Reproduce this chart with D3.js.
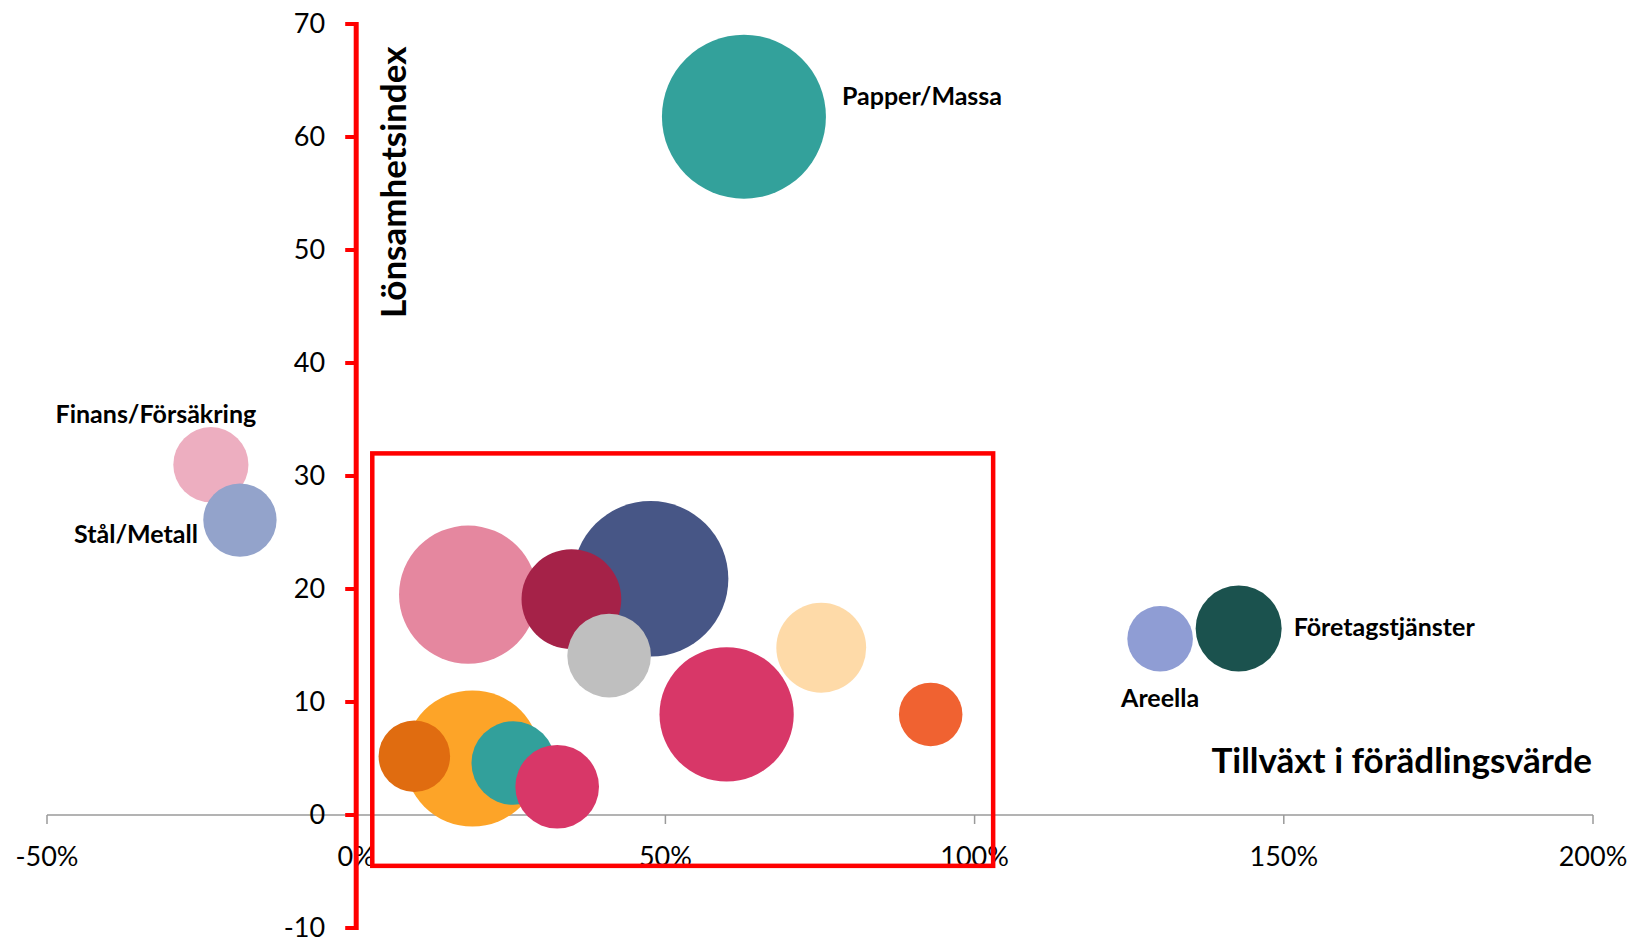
<!DOCTYPE html>
<html>
<head>
<meta charset="utf-8">
<script src="https://cdn.jsdelivr.net/npm/d3@7"></script>
<style>
  body { margin: 0; background: #fff; }
  text { font-family: Lato, "Open Sans", sans-serif; }
</style>
</head>
<body>
<div id="chart"></div>
<script>
// bubble data: growth in value added (fraction), profitability index, bubble size
var sectors = ["Finans/Försäkring", "Stål/Metall", "", "", "", "", "", "", "", "", "", "", "", "Papper/Massa", "Areella", "Företagstjänster"];
var growth  = [-0.235, -0.188, 0.181, 0.476, 0.348, 0.409, 0.752, 0.599, 0.929, 0.188, 0.094, 0.254, 0.325, 0.627, 1.300, 1.427];
var profit  = [31.0, 26.1, 19.5, 20.9, 19.1, 14.1, 14.8, 8.9, 8.9, 5.0, 5.2, 4.6, 2.5, 61.8, 15.6, 16.5];
var sizes   = [21, 20, 71, 90, 37, 26, 30, 67, 15, 69, 19, 26, 26, 100, 16, 27.5];
var colors  = ["#EDAEC0", "#93A3CB", "#E5879F", "#475686", "#A52248", "#BFBFBF", "#FEDAA8", "#D83768", "#F06231", "#FDA428", "#E06C10", "#32A09B", "#D83768", "#33A19B", "#8F9DD4", "#1B524E"];

var xTicks = [-0.5, 0, 0.5, 1, 1.5, 2];
var yTicks = [-10, 0, 10, 20, 30, 40, 50, 60, 70];

// highlighted region (growth / profit extents)
var boxX = [0.026, 1.03];
var boxY = [-4.5, 32];

var width = 1634, height = 942;

var svg = d3.select("#chart").append("svg")
    .attr("width", width)
    .attr("height", height);

var x = d3.scaleLinear().domain([-0.5, 2]).range([47, 1593]);
var y = d3.scaleLinear().domain([-10, 70]).range([928, 24]);
var r = d3.scaleSqrt().domain([0, 100]).range([0, 82]);

// label placement relative to bubble
var labelPos = {
  "Papper/Massa":      {dx: 16,  dy: -12, anchor: "start", side: 1},
  "Finans/Försäkring": {dx: -55, dy: -42, anchor: "middle", side: 0},
  "Stål/Metall":       {dx: -42, dy: 23,  anchor: "end", side: 0},
  "Areella":           {dx: 0,   dy: 68,  anchor: "middle", side: 0},
  "Företagstjänster":  {dx: 12,  dy: 7,   anchor: "start", side: 1}
};

var data = sectors.map(function(s, i) {
  return {name: s, gx: growth[i], py: profit[i], size: sizes[i], color: colors[i]};
});

var pct = function(d) { return Math.round(d * 100) + "%"; };

// x axis (gray)
var xAxis = svg.append("g").attr("transform", "translate(0," + y(0) + ")");
xAxis.append("line")
  .attr("x1", x(-0.5)).attr("x2", x(2))
  .attr("stroke", "#9a9a9a").attr("stroke-width", 1.5);
xAxis.selectAll(".xt").data(xTicks).enter().append("line")
  .attr("x1", function(d) { return x(d); })
  .attr("x2", function(d) { return x(d); })
  .attr("y1", 0).attr("y2", 9)
  .attr("stroke", "#9a9a9a").attr("stroke-width", 1.5);
xAxis.selectAll(".xl").data(xTicks).enter().append("text")
  .attr("x", function(d) { return x(d); })
  .attr("y", 51)
  .attr("text-anchor", "middle")
  .attr("font-size", 27)
  .attr("fill", "#000")
  .text(pct);

// bubbles
svg.append("g").selectAll("circle").data(data).enter().append("circle")
  .attr("cx", function(d) { return x(d.gx); })
  .attr("cy", function(d) { return y(d.py); })
  .attr("r", function(d) { return r(d.size); })
  .attr("fill", function(d) { return d.color; });

// bubble labels
svg.append("g").selectAll("text").data(data.filter(function(d) { return d.name; })).enter().append("text")
  .attr("x", function(d) {
    var p = labelPos[d.name];
    return x(d.gx) + p.dx + (p.side ? r(d.size) : 0);
  })
  .attr("y", function(d) { return y(d.py) + labelPos[d.name].dy; })
  .attr("text-anchor", function(d) { return labelPos[d.name].anchor; })
  .attr("font-size", 25)
  .attr("font-weight", "bold")
  .text(function(d) { return d.name; });

// y axis (red)
var yAxis = svg.append("g").attr("transform", "translate(" + x(0) + ",0)");
yAxis.append("line")
  .attr("y1", y(70) - 2).attr("y2", y(-10) + 2)
  .attr("stroke", "#FF0000").attr("stroke-width", 5);
yAxis.selectAll(".yt").data(yTicks).enter().append("line")
  .attr("x1", -11).attr("x2", 0)
  .attr("y1", function(d) { return y(d); })
  .attr("y2", function(d) { return y(d); })
  .attr("stroke", "#FF0000").attr("stroke-width", 4);
yAxis.selectAll(".yl").data(yTicks).enter().append("text")
  .attr("x", -31)
  .attr("y", function(d) { return y(d); })
  .attr("dy", "0.34em")
  .attr("text-anchor", "end")
  .attr("font-size", 27)
  .text(function(d) { return d; });

// axis titles
svg.append("text")
  .attr("transform", "translate(406,318) rotate(-90)")
  .attr("font-size", 35)
  .attr("font-weight", "bold")
  .text("Lönsamhetsindex");

svg.append("text")
  .attr("x", 1592).attr("y", 773)
  .attr("text-anchor", "end")
  .attr("font-size", 35)
  .attr("font-weight", "bold")
  .text("Tillväxt i förädlingsvärde");

// red highlight box
svg.append("rect")
  .attr("x", x(boxX[0])).attr("y", y(boxY[1]))
  .attr("width", x(boxX[1]) - x(boxX[0]))
  .attr("height", y(boxY[0]) - y(boxY[1]))
  .attr("fill", "none")
  .attr("stroke", "#FF0000").attr("stroke-width", 4.5);
</script>
</body>
</html>
